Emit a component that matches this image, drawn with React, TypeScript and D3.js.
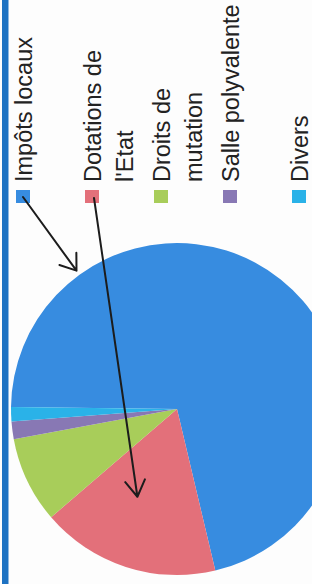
import React from "react";
import * as d3 from "d3";

// Recettes de la commune (parts en %)
const categories = ["Impôts locaux", "Dotations de l'Etat", "Droits de mutation", "Salle polyvalente", "Divers"];
const labelLines = [["Impôts locaux"], ["Dotations de", "l'Etat"], ["Droits de", "mutation"], ["Salle polyvalente"], ["Divers"]];
const values = [71.1, 17.4, 8.4, 1.7, 1.4];
const colors = ["#378ce0", "#e3707a", "#a8cd5a", "#8878b4", "#2ab2e8"];

const width = 312;
const height = 584;

const App = () => {
  const cx = 177;
  const cy = 409;
  const radius = 166;
  const start = (-89.3 * Math.PI) / 180;

  const data = categories.map((c, i) => ({ name: c, value: values[i], color: colors[i] }));

  const pie = d3
    .pie<any>()
    .sort(null)
    .value((d) => d.value)
    .startAngle(start)
    .endAngle(start + 2 * Math.PI);
  const arcs = pie(data);
  const arc = d3.arc<any>().innerRadius(0).outerRadius(radius);

  // legend is drawn rotated (the scan is turned a quarter)
  const legendX = d3.scaleLinear().domain([0, categories.length - 1]).range([32, 308]);
  const lineGap = 32;
  const textStart = 182;

  // polar point in d3 angle convention (0 = up, clockwise)
  const polar = (a: number, r: number): [number, number] => [cx + r * Math.sin(a), cy - r * Math.cos(a)];

  // hand-drawn arrows: swatch -> slice
  const arrows = [
    { from: [legendX(0) - 9, 197], to: polar((-36 * Math.PI) / 180, radius * 1.03), barb: 18, spread: 0.62 },
    {
      from: [legendX(1) - 7, 198],
      to: polar((arcs[1].startAngle + arcs[1].endAngle) / 2 + 0.11, radius * 0.58),
      barb: 19,
      spread: 0.55,
    },
  ];

  const arrowPath = (a: any) => {
    const [x1, y1] = a.from;
    const [x2, y2] = a.to;
    const ang = Math.atan2(y1 - y2, x1 - x2);
    const b1 = [x2 + a.barb * Math.cos(ang + a.spread), y2 + a.barb * Math.sin(ang + a.spread)];
    const b2 = [x2 + a.barb * Math.cos(ang - a.spread), y2 + a.barb * Math.sin(ang - a.spread)];
    return `M${x1},${y1}L${x2},${y2}M${b1[0]},${b1[1]}L${x2},${y2}L${b2[0]},${b2[1]}`;
  };

  return (
    <svg
      width={width}
      height={height}
      style={{ position: "absolute", left: 0, top: 0, background: "#fdfdfd" }}
      fontFamily="'Liberation Sans', Arial, sans-serif"
    >
      <rect x={2} y={0} width={6} height={height} fill="#1e72c2" />
      <rect x={8} y={0} width={1} height={height} fill="#8fb8e0" />

      <g transform={`translate(${cx},${cy})`}>
        {arcs.map((d, i) => (
          <path key={i} d={arc(d) as string} fill={d.data.color} />
        ))}
      </g>

      <g>
        {labelLines.map((lines, i) => (
          <g key={i}>
            <rect x={legendX(i) - 16} y={190} width={14} height={13} fill={colors[i]} />
            {lines.map((t, j) => {
              const x = legendX(i) + j * lineGap;
              return (
                <text
                  key={j}
                  transform={`translate(${x},${textStart}) rotate(-90)`}
                  fontSize={23.5}
                  fill="#222"
                >
                  {t}
                </text>
              );
            })}
          </g>
        ))}
      </g>

      <g fill="none" stroke="#1c1c1c" strokeWidth={2} strokeLinecap="round" strokeLinejoin="round">
        {arrows.map((a, i) => (
          <path key={i} d={arrowPath(a)} />
        ))}
      </g>
    </svg>
  );
};

export default App;
